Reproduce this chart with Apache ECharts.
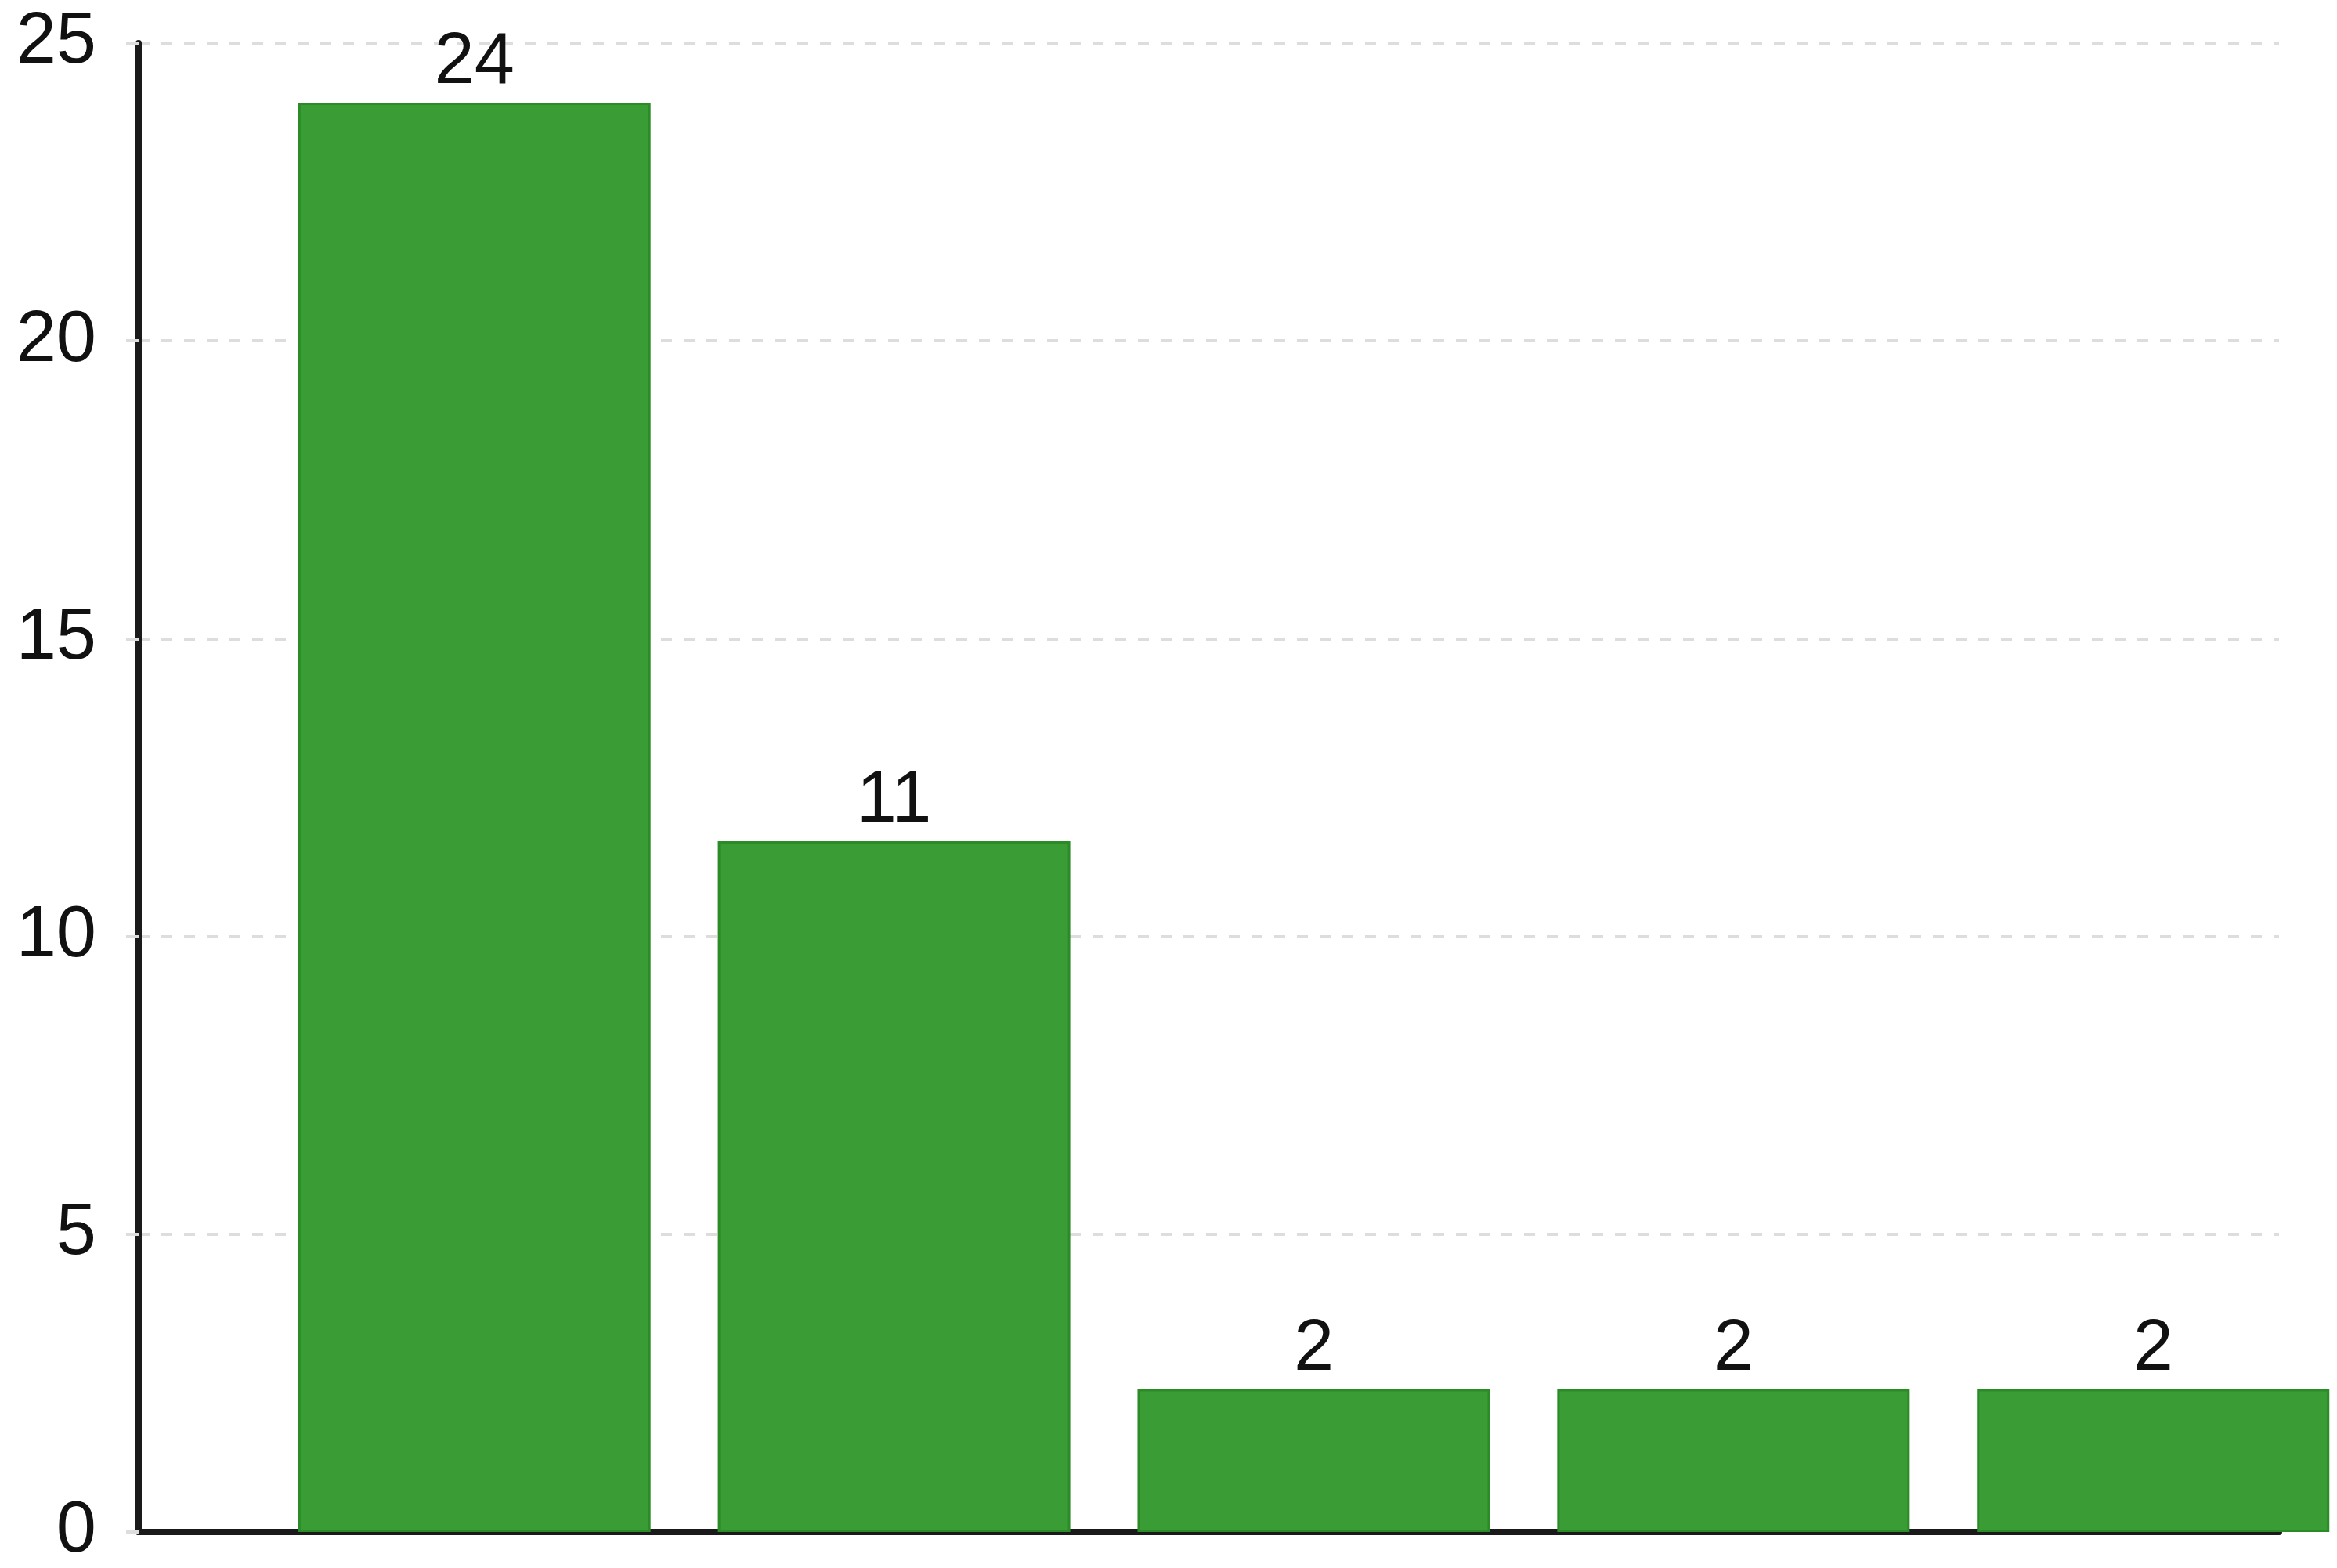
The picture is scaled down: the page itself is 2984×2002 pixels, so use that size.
<!DOCTYPE html>
<html>
<head>
<meta charset="utf-8">
<script src="https://cdn.jsdelivr.net/npm/echarts@6/dist/echarts.min.js"></script>
<style>
  html, body { margin: 0; padding: 0; background: #fff; }
  #mychart { width: 2984px; height: 2002px; }
</style>
</head>
<body>
<div id="mychart"></div>
<script>
const barValues = [24, 11.6, 2.4, 2.4, 2.4];
const barLabels = ["24", "11", "2", "2", "2"];
const yTicks = [0, 5, 10, 15, 20, 25];

const fontFamily = "Liberation Sans, Arial, sans-serif";

const myChart = echarts.init(document.getElementById("mychart"));

const option = {
  backgroundColor: "#ffffff",
  animation: false,
  grid: {
    left: 177,
    right: 74,
    top: 55,
    bottom: 44,
    containLabel: false
  },
  xAxis: {
    type: "value",
    min: -0.8,
    max: 4.3,
    axisLine: { show: true, onZero: false, lineStyle: { color: "#1a1a1a", width: 8 } },
    axisTick: { show: false },
    axisLabel: { show: false },
    splitLine: { show: false }
  },
  yAxis: {
    type: "value",
    min: yTicks[0],
    max: yTicks[yTicks.length - 1],
    interval: 5,
    axisLine: { show: true, onZero: false, lineStyle: { color: "#1a1a1a", width: 8 } },
    axisTick: { show: true, length: 16, lineStyle: { color: "#dddddd", width: 4 } },
    axisLabel: {
      margin: 54,
      color: "#111111",
      fontSize: 92,
      fontFamily: fontFamily
    },
    splitLine: {
      show: true,
      lineStyle: { color: "#dddddd", width: 4, type: [14, 15] }
    }
  },
  series: [
    {
      type: "bar",
      data: barValues.map((v, i) => [i, v]),
      barWidth: 450,
      itemStyle: {
        color: "#3a9c35",
        borderColor: "#2b8c27",
        borderWidth: 3
      },
      label: {
        show: true,
        position: "top",
        distance: 4,
        color: "#111111",
        fontSize: 92,
        fontFamily: fontFamily,
        formatter: (p) => barLabels[p.dataIndex]
      }
    }
  ]
};

myChart.setOption(option);
window.addEventListener("resize", () => {
  myChart.resize();
});
</script>
</body>
</html>
